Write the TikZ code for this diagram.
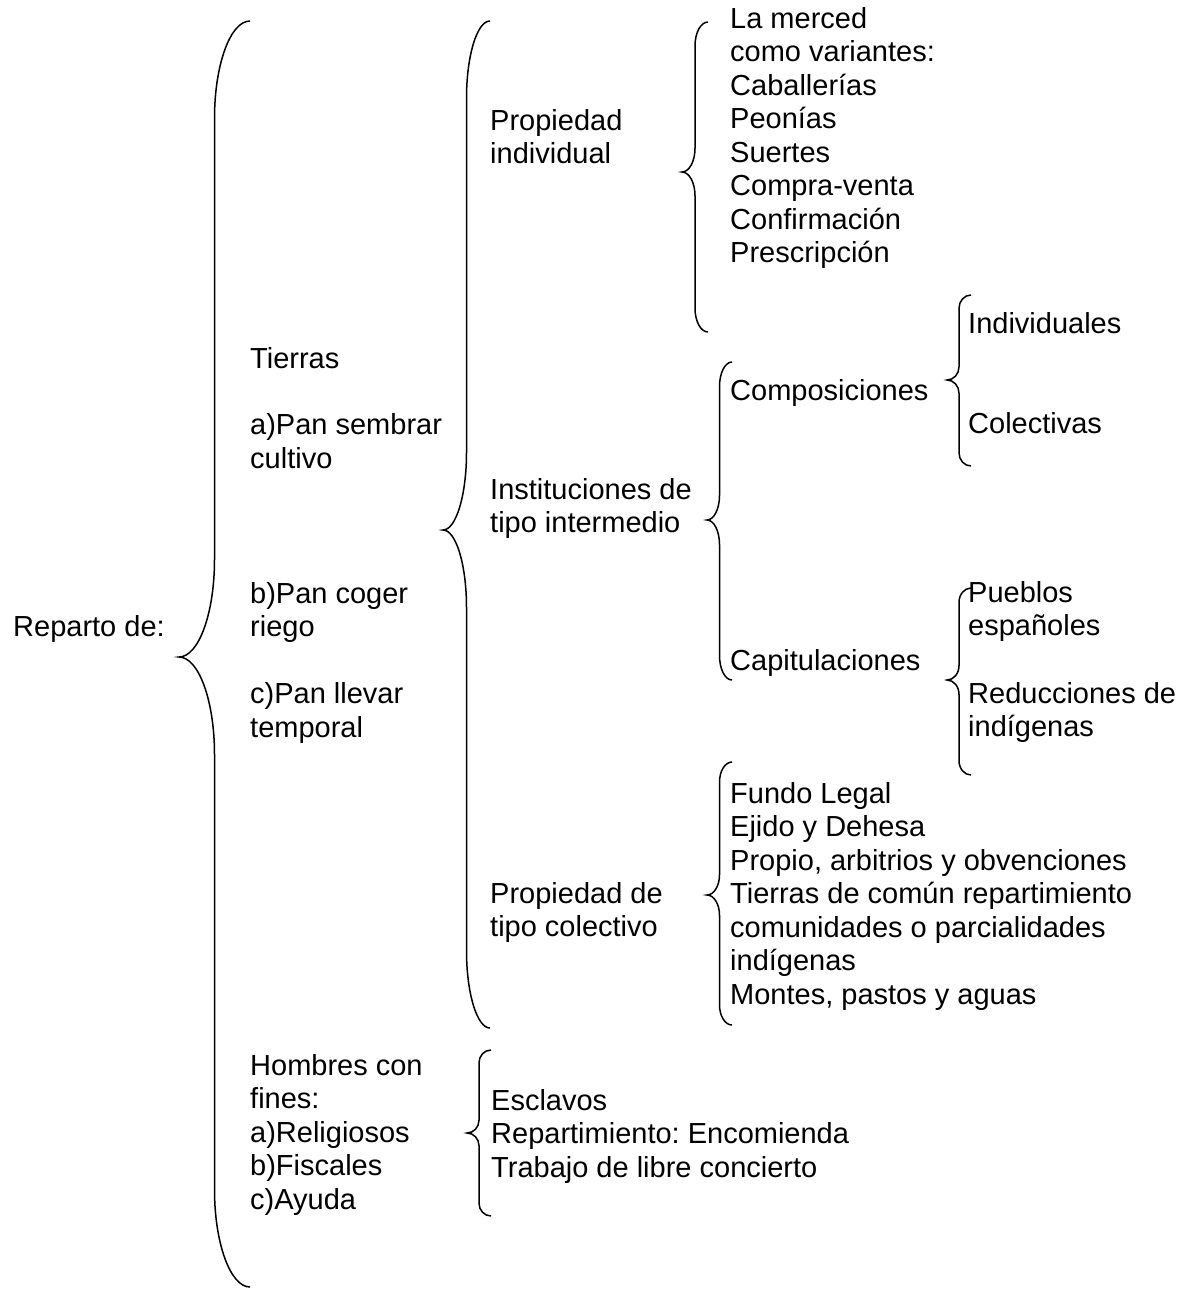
\documentclass[tikz,border=0pt]{standalone}
\usepackage{fontspec}
\setmainfont{Liberation Sans}
\frenchspacing

% left curly brace: tip x, end x, top y, tip y, bottom y
\newcommand{\llave}[5]{%
	\pgfmathsetmacro\rx{(#2-#1)/2}
	\pgfmathsetmacro\ry{(#5-#3)/13}
	\draw[llave] (#2,#3) arc[start angle=90,end angle=180,x radius=\rx pt,y radius=\ry pt]
	-- ({#1+\rx},{#4-\ry}) arc[start angle=0,end angle=-90,x radius=\rx pt,y radius=\ry pt]
	arc[start angle=90,end angle=0,x radius=\rx pt,y radius=\ry pt]
	-- ({#1+\rx},{#5-\ry}) arc[start angle=180,end angle=270,x radius=\rx pt,y radius=\ry pt];}

\begin{document}
\begin{tikzpicture}[x=1pt,y=-1pt,
	txt/.style={anchor=north west,inner sep=0pt,align=left,font=\fontsize{29}{33.5}\selectfont},
	llave/.style={line width=1.5pt}]
	\useasboundingbox (0,0) rectangle (1187,1291);
	\fill[white] (0,0) rectangle (1187,1291);

	% first column
	\node[txt] (reparto) at (13,615) {Reparto de:};
	\llave{179}{250}{21}{657}{1287}

	\node[txt] (tierras) at (250,347) {Tierras};
	\node[txt] (sembrar) at (250,413.5) {a)Pan sembrar\\cultivo};
	\node[txt] (coger) at (250,582) {b)Pan coger\\riego};
	\node[txt] (llevar) at (250,682.5) {c)Pan llevar\\temporal};
	\node[txt] (hombres) at (250,1054) {Hombres con\\fines:\\a)Religiosos\\b)Fiscales\\c)Ayuda};

	% second column
	\llave{443}{490}{21}{530}{1028}
	\node[txt] (propind) at (490,109) {Propiedad\\individual};
	\node[txt] (instit) at (490,478) {Instituciones de\\tipo intermedio};
	\node[txt] (propcol) at (490,882) {Propiedad de\\tipo colectivo};

	\llave{467}{491}{1050}{1133}{1216}
	\node[txt] (esclavos) at (491,1089) {Esclavos\\Repartimiento: Encomienda\\Trabajo de libre concierto};

	% third column
	\llave{682}{708}{22}{172}{332}
	\node[txt] (merced) at (730,7) {La merced\\como variantes:\\Caballerías\\Peonías\\Suertes\\Compra-venta\\Confirmación\\Prescripción};

	\llave{707}{732}{362}{520}{680}
	\node[txt] (compos) at (730,379) {Composiciones};
	\node[txt] (capit) at (730,649) {Capitulaciones};

	\llave{707}{732}{762}{895}{1025}
	\node[txt] (fundo) at (730,782) {Fundo Legal\\Ejido y Dehesa\\Propio, arbitrios y obvenciones\\Tierras de común repartimiento\\comunidades o parcialidades\\indígenas\\Montes, pastos y aguas};

	% fourth column
	\llave{947}{971}{295}{380}{466}
	\node[txt] (indiv) at (968,312) {Individuales};
	\node[txt] (colect) at (968,412) {Colectivas};

	\llave{947}{971}{588}{680}{775}
	\node[txt] (pueblos) at (968,581) {Pueblos\\españoles};
	\node[txt] (reduc) at (968,682) {Reducciones de\\indígenas};
\end{tikzpicture}
\end{document}
